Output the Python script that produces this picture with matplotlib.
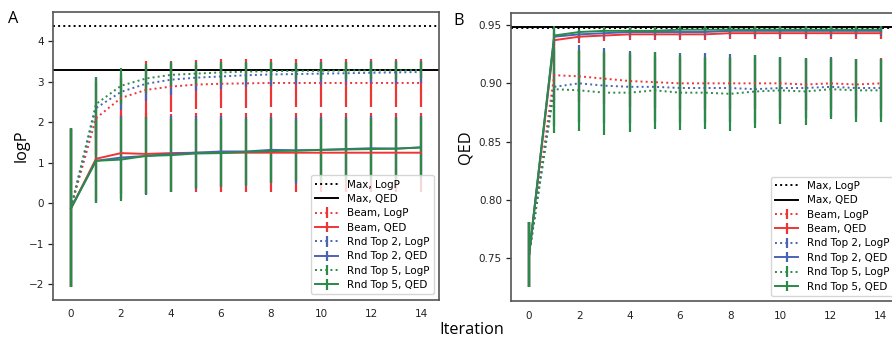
import matplotlib
matplotlib.use("Agg")
import matplotlib.pyplot as plt
import numpy as np

iterations = list(range(15))

# Panel A: logP
max_logp_a = 4.37
max_qed_a = 3.29
beam_logp_a = [-0.1, 2.10, 2.60, 2.80, 2.88, 2.93, 2.95, 2.96, 2.97, 2.97, 2.97, 2.97, 2.97, 2.97, 2.97]
beam_logp_a_err = [1.95, 0.90, 0.50, 0.70, 0.62, 0.60, 0.60, 0.60, 0.60, 0.60, 0.60, 0.60, 0.60, 0.60, 0.60]
beam_qed_a = [-0.12, 1.10, 1.24, 1.22, 1.24, 1.25, 1.25, 1.25, 1.25, 1.25, 1.25, 1.25, 1.25, 1.25, 1.25]
beam_qed_a_err = [1.95, 1.05, 1.00, 1.00, 0.97, 0.97, 0.97, 0.97, 0.97, 0.97, 0.97, 0.97, 0.97, 0.97, 0.97]
rnd2_logp_a = [-0.1, 2.35, 2.75, 2.95, 3.05, 3.10, 3.13, 3.16, 3.18, 3.19, 3.20, 3.21, 3.22, 3.23, 3.24]
rnd2_logp_a_err = [1.95, 0.75, 0.45, 0.42, 0.38, 0.32, 0.30, 0.30, 0.29, 0.28, 0.28, 0.28, 0.28, 0.28, 0.28]
rnd2_qed_a = [-0.12, 1.05, 1.13, 1.17, 1.22, 1.25, 1.28, 1.28, 1.32, 1.31, 1.32, 1.34, 1.36, 1.35, 1.38]
rnd2_qed_a_err = [1.95, 1.05, 1.02, 0.97, 0.93, 0.90, 0.87, 0.85, 0.82, 0.82, 0.80, 0.80, 0.79, 0.79, 0.78]
rnd5_logp_a = [-0.1, 2.45, 2.90, 3.08, 3.17, 3.20, 3.23, 3.25, 3.26, 3.27, 3.27, 3.28, 3.28, 3.28, 3.29]
rnd5_logp_a_err = [1.95, 0.67, 0.45, 0.36, 0.31, 0.28, 0.26, 0.24, 0.22, 0.20, 0.20, 0.20, 0.20, 0.20, 0.20]
rnd5_qed_a = [-0.12, 1.05, 1.08, 1.17, 1.19, 1.23, 1.24, 1.27, 1.29, 1.30, 1.32, 1.33, 1.34, 1.35, 1.38]
rnd5_qed_a_err = [1.95, 1.05, 1.03, 0.95, 0.90, 0.86, 0.84, 0.82, 0.79, 0.76, 0.76, 0.76, 0.76, 0.76, 0.74]

# Panel B: QED
max_logp_b = 0.9475
max_qed_b = 0.948
beam_logp_b = [0.753, 0.907, 0.906, 0.904, 0.902, 0.901, 0.900, 0.900, 0.900, 0.900, 0.900, 0.899, 0.900, 0.899, 0.900]
beam_logp_b_err = [0.028, 0.022, 0.022, 0.022, 0.022, 0.022, 0.022, 0.022, 0.022, 0.022, 0.022, 0.022, 0.022, 0.022, 0.022]
beam_qed_b = [0.753, 0.937, 0.940, 0.941, 0.942, 0.942, 0.942, 0.942, 0.943, 0.943, 0.943, 0.943, 0.943, 0.943, 0.943]
beam_qed_b_err = [0.028, 0.006, 0.005, 0.005, 0.005, 0.005, 0.005, 0.005, 0.005, 0.005, 0.005, 0.005, 0.005, 0.005, 0.005]
rnd2_logp_b = [0.753, 0.897, 0.900, 0.898, 0.897, 0.897, 0.896, 0.896, 0.896, 0.895, 0.896, 0.896, 0.897, 0.896, 0.896]
rnd2_logp_b_err = [0.028, 0.034, 0.033, 0.032, 0.031, 0.030, 0.030, 0.030, 0.029, 0.029, 0.027, 0.026, 0.026, 0.025, 0.025]
rnd2_qed_b = [0.753, 0.940, 0.942, 0.943, 0.944, 0.944, 0.944, 0.944, 0.945, 0.945, 0.945, 0.945, 0.945, 0.945, 0.945]
rnd2_qed_b_err = [0.028, 0.007, 0.004, 0.004, 0.004, 0.004, 0.004, 0.004, 0.004, 0.004, 0.004, 0.004, 0.004, 0.004, 0.004]
rnd5_logp_b = [0.753, 0.895, 0.894, 0.892, 0.892, 0.894, 0.892, 0.892, 0.891, 0.893, 0.894, 0.893, 0.895, 0.894, 0.894]
rnd5_logp_b_err = [0.028, 0.038, 0.035, 0.036, 0.034, 0.033, 0.032, 0.031, 0.032, 0.031, 0.029, 0.029, 0.026, 0.027, 0.027]
rnd5_qed_b = [0.753, 0.941, 0.944, 0.945, 0.945, 0.945, 0.946, 0.946, 0.946, 0.946, 0.946, 0.946, 0.946, 0.946, 0.946]
rnd5_qed_b_err = [0.028, 0.008, 0.003, 0.003, 0.003, 0.003, 0.003, 0.003, 0.003, 0.003, 0.003, 0.003, 0.003, 0.003, 0.003]

RED = "#ee3535"
BLUE = "#4a64b4"
GREEN = "#2a8a48"
TICK_FS = 7.5
LABEL_FONT = "Open Sans"
LABEL_FS = 11.7

W, H = 892, 337
fig = plt.figure(figsize=(W / 100, H / 100), dpi=100)

def px_rect(l, r, t, b):
    return [l / W, 1 - b / H, (r - l) / W, (b - t) / H]

axA = fig.add_axes(px_rect(53, 439, 12, 299.5))
axB = fig.add_axes(px_rect(511, 899, 13, 301))

def draw(ax, mx_logp, mx_qed, series):
    ax.axhline(mx_logp, color="black", ls=":", lw=1.4, label="Max, LogP")
    ax.axhline(mx_qed, color="black", ls="-", lw=1.4, label="Max, QED")
    for y, e, c, ls, lab in series:
        ax.errorbar(iterations, y, yerr=e, color=c, ls=ls, lw=1.4,
                    elinewidth=1.6, capsize=0, label=lab)
    ax.set_xlim(-0.72, 14.72)
    ax.set_xticks(range(0, 15, 2))
    ax.tick_params(axis="x", length=0, pad=7, labelsize=TICK_FS, colors="#222222")
    ax.tick_params(axis="y", length=3.5, width=0.9, pad=3, labelsize=TICK_FS,
                   colors="#222222")
    for s in ax.spines.values():
        s.set_color("#555555")
        s.set_linewidth(1.2)
    leg = ax.legend(loc="lower right", fontsize=TICK_FS, labelspacing=0.42,
                    handlelength=2.2, handletextpad=0.85, framealpha=0.8,
                    fancybox=True)
    leg.get_frame().set_edgecolor("#cccccc")

draw(axA, max_logp_a, max_qed_a, [
    (beam_logp_a, beam_logp_a_err, RED, ":", "Beam, LogP"),
    (beam_qed_a, beam_qed_a_err, RED, "-", "Beam, QED"),
    (rnd2_logp_a, rnd2_logp_a_err, BLUE, ":", "Rnd Top 2, LogP"),
    (rnd2_qed_a, rnd2_qed_a_err, BLUE, "-", "Rnd Top 2, QED"),
    (rnd5_logp_a, rnd5_logp_a_err, GREEN, ":", "Rnd Top 5, LogP"),
    (rnd5_qed_a, rnd5_qed_a_err, GREEN, "-", "Rnd Top 5, QED"),
])
axA.set_ylim(-2.37, 4.72)
axA.set_yticks(range(-2, 5))
axA.set_yticklabels(["\u22122", "\u22121", "0", "1", "2", "3", "4"])

draw(axB, max_logp_b, max_qed_b, [
    (beam_logp_b, beam_logp_b_err, RED, ":", "Beam, LogP"),
    (beam_qed_b, beam_qed_b_err, RED, "-", "Beam, QED"),
    (rnd2_logp_b, rnd2_logp_b_err, BLUE, ":", "Rnd Top 2, LogP"),
    (rnd2_qed_b, rnd2_qed_b_err, BLUE, "-", "Rnd Top 2, QED"),
    (rnd5_logp_b, rnd5_logp_b_err, GREEN, ":", "Rnd Top 5, LogP"),
    (rnd5_qed_b, rnd5_qed_b_err, GREEN, "-", "Rnd Top 5, QED"),
])
axB.set_ylim(0.7134, 0.9603)
axB.set_yticks([0.75, 0.80, 0.85, 0.90, 0.95])
axB.set_yticklabels(["0.75", "0.80", "0.85", "0.90", "0.95"])

fig.text(21.7 / W, 1 - 146 / H, "logP", rotation=90, ha="center", va="center",
         family=LABEL_FONT, fontsize=LABEL_FS)
fig.text(466 / W, 1 - 147 / H, "QED", rotation=90, ha="center", va="center",
         family=LABEL_FONT, fontsize=LABEL_FS)
fig.text(472 / W, 1 - 333.5 / H, "Iteration", ha="center", va="baseline",
         family=LABEL_FONT, fontsize=LABEL_FS)
fig.text(8.3 / W, 1 - 23.3 / H, "A", ha="left", va="baseline",
         family=LABEL_FONT, fontsize=LABEL_FS)
fig.text(453 / W, 1 - 25 / H, "B", ha="left", va="baseline",
         family=LABEL_FONT, fontsize=LABEL_FS)

fig.savefig("out.png", dpi=100)
